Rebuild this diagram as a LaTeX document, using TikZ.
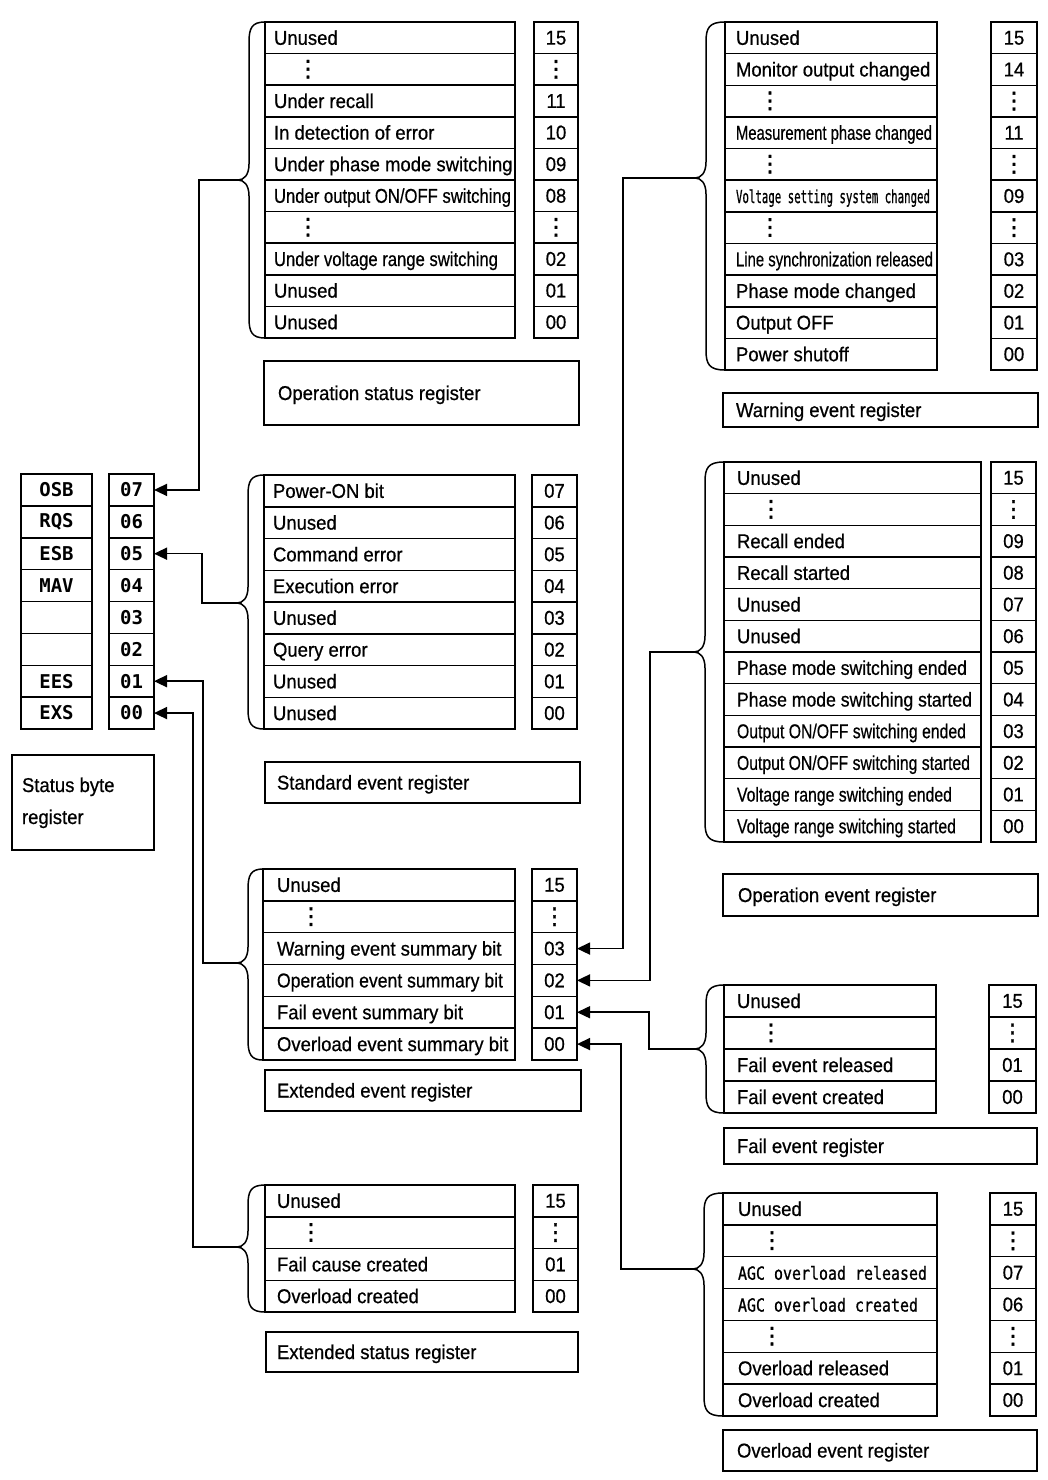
\documentclass[tikz,border=0pt]{standalone}
\usepackage{fontspec}
\setmainfont[FakeStretch=0.925,FakeBold=0.6]{Liberation Sans}
\newfontfamily\monof{DejaVu Sans Mono}
\newfontfamily\monot[FakeBold=1]{DejaVu Sans Mono}
\newfontfamily\symf[FakeBold=1.5]{DejaVu Sans}
\usetikzlibrary{arrows.meta}
\newcommand\vd{{\symf\fontsize{23}{23}\selectfont ⋮}}
\newcommand\tdots{\hspace*{34pt}\makebox[0pt]{\vd}}
\newcommand\fitw[2]{\resizebox{#1pt}{\height}{#2}}
\newcommand\mono[2]{\resizebox{#1pt}{\height}{\monot\fontsize{18}{18}\selectfont #2}}
\tikzset{
 cell/.style={draw, line width=1.5pt, inner sep=0pt, outer sep=0pt},
 celltext/.style={inner sep=0pt, outer sep=0pt},
 conn/.style={line width=1.5pt, -{Triangle[length=13pt,width=12pt]}},
 brc/.style={line width=1.5pt},
}
% #1 name, #2 xL, #3 xR, #4 nL, #5 nR, #6 top, #7 row height, #8 inset, #9 list
\newcommand\register[9]{%
 \foreach \txt/\num [count=\k] in {#9} {
   \pgfmathsetmacro\yc{#6+(\k-0.5)*#7}
   \pgfmathsetmacro\wt{#3-#2}
   \pgfmathsetmacro\wn{#5-#4}
   \node[cell, minimum width=\wt pt, minimum height=#7pt] (#1-t\k) at ({(#2+#3)/2},\yc) {};
   \node[celltext, anchor=base west] (#1-l\k) at ([xshift=#8pt,yshift=-7pt]#1-t\k.west) {\txt};
   \node[cell, minimum width=\wn pt, minimum height=#7pt] (#1-n\k) at ({(#4+#5)/2},\yc) {\num};
 }}
% #1 name, #2 xL, #3 top, #4 bottom, #5 tip x, #6 tip y
\newcommand\regbrace[6]{%
 \coordinate (#1) at (#5,#6);
 \draw[brc] (#2,#3) .. controls (#5+14,#3) and (#5+11,#3+6) .. (#5+11,#3+20)
   -- (#5+11,#6-16) .. controls (#5+11,#6-5) and (#5+6,#6) .. (#1)
   .. controls (#5+6,#6) and (#5+11,#6+5) .. (#5+11,#6+16)
   -- (#5+11,#4-20) .. controls (#5+11,#4-6) and (#5+14,#4) .. (#2,#4);}
% label box: #1 name, #2 x1, #3 y1, #4 x2, #5 y2, #6 inset, #7 text
\newcommand\labelbox[7]{%
 \pgfmathsetmacro\lw{#4-#2}
 \pgfmathsetmacro\lh{#5-#3}
 \node[cell, minimum width=\lw pt, minimum height=\lh pt, anchor=north west] (#1) at (#2,#3) {};
 \node[celltext, anchor=base west] (#1-t) at ([xshift=#6pt,yshift=-7pt]#1.west) {#7};}
\begin{document}
\begin{tikzpicture}[x=1pt,y=-1pt,font=\fontsize{20}{24}\selectfont]
\useasboundingbox[fill=white] (0,0) rectangle (1047,1480);

% Status byte register
\foreach \a/\b [count=\k] in {OSB/07,RQS/06,ESB/05,MAV/04,/03,/02,EES/01,EXS/00} {
  \pgfmathsetmacro\yc{474+(\k-0.5)*31.875}
  \node[cell, minimum width=71pt, minimum height=31.875pt, font=\monof\bfseries\fontsize{19}{22}\selectfont] (sb-t\k) at (56.5,\yc) {\a};
  \node[cell, minimum width=45pt, minimum height=31.875pt, font=\monof\bfseries\fontsize{19}{22}\selectfont] (sb-n\k) at (131.5,\yc) {\b};
}
\node[cell, minimum width=142pt, minimum height=95pt, anchor=north west] (sbl) at (12,755) {};
\node[celltext, anchor=base west] (sbl-t1) at (22,792) {Status byte};
\node[celltext, anchor=base west] (sbl-t2) at (22,824) {register};

% Operation status register
\register{os}{265}{515}{534}{578}{22}{31.6}{9}{{Unused}/15,{\tdots}/{\vd},{Under recall}/11,{In detection of error}/10,{Under phase mode switching}/09,{\fitw{237}{Under output ON/OFF switching}}/08,{\tdots}/{\vd},{\fitw{224}{Under voltage range switching}}/02,{Unused}/01,{Unused}/00}
\regbrace{ostip}{265}{22}{338}{238}{180}
\labelbox{osl}{264}{361}{579}{425}{14}{Operation status register}

% Warning event register
\register{we}{725}{937}{991}{1037}{22}{31.64}{11}{{Unused}/15,{Monitor output changed}/14,{\tdots}/{\vd},{\fitw{196}{Measurement phase changed}}/11,{\tdots}/{\vd},{\mono{194}{Voltage setting system changed}}/09,{\tdots}/{\vd},{\fitw{197}{Line synchronization released}}/03,{Phase mode changed}/02,{Output OFF}/01,{Power shutoff}/00}
\regbrace{wetip}{725}{22}{370}{695}{178}
\labelbox{wel}{723}{393}{1038}{427}{13}{Warning event register}

% Standard event register
\register{se}{264}{515}{532}{577}{475}{31.75}{9}{{Power-ON bit}/07,{Unused}/06,{Command error}/05,{Execution error}/04,{Unused}/03,{Query error}/02,{Unused}/01,{Unused}/00}
\regbrace{setip}{264}{475}{729}{237}{603}
\labelbox{sel}{265}{762}{580}{803}{12}{Standard event register}

% Operation event register
\register{oe}{724}{981}{991}{1036}{462}{31.67}{13}{{Unused}/15,{\tdots}/{\vd},{Recall ended}/09,{Recall started}/08,{Unused}/07,{Unused}/06,{\fitw{230}{Phase mode switching ended}}/05,{\fitw{235}{Phase mode switching started}}/04,{\fitw{229}{Output ON/OFF switching ended}}/03,{\fitw{233}{Output ON/OFF switching started}}/02,{\fitw{215}{Voltage range switching ended}}/01,{\fitw{219}{Voltage range switching started}}/00}
\regbrace{oetip}{724}{462}{842}{694}{652}
\labelbox{oel}{723}{874}{1038}{916}{15}{Operation event register}

% Extended event register
\register{ee}{263}{515}{532}{577}{869}{31.83}{14}{{Unused}/15,{\tdots}/{\vd},{Warning event summary bit}/03,{\fitw{226}{Operation event summary bit}}/02,{Fail event summary bit}/01,{Overload event summary bit}/00}
\regbrace{eetip}{263}{869}{1060}{237}{963}
\labelbox{eel}{265}{1070}{581}{1111}{12}{Extended event register}

% Fail event register
\register{fe}{724}{936}{989}{1036}{985}{32}{13}{{Unused}/15,{\tdots}/{\vd},{Fail event released}/01,{Fail event created}/00}
\regbrace{fetip}{724}{985}{1113}{695}{1049}
\labelbox{fel}{724}{1128}{1037}{1164}{13}{Fail event register}

% Extended status register
\register{es}{265}{515}{533}{578}{1185}{31.75}{12}{{Unused}/15,{\tdots}/{\vd},{Fail cause created}/01,{Overload created}/00}
\regbrace{estip}{265}{1185}{1312}{237}{1247}
\labelbox{esl}{266}{1332}{578}{1372}{11}{Extended status register}

% Overload event register
\register{ol}{723}{937}{990}{1036}{1193}{31.86}{15}{{Unused}/15,{\tdots}/{\vd},{\mono{189}{AGC overload released}}/07,{\mono{180}{AGC overload created}}/06,{\tdots}/{\vd},{Overload released}/01,{Overload created}/00}
\regbrace{oltip}{723}{1193}{1416}{693}{1269}
\labelbox{oll}{723}{1430}{1037}{1471}{14}{Overload event register}

% Connectors
\draw[conn] (ostip) -| ([xshift=45pt]sb-n1.east) -- (sb-n1.east);
\draw[conn] (setip) -| ([xshift=48pt]sb-n3.east) -- (sb-n3.east);
\draw[conn] (eetip) -| ([xshift=49pt]sb-n7.east) -- (sb-n7.east);
\draw[conn] (estip) -| ([xshift=39pt]sb-n8.east) -- (sb-n8.east);
\draw[conn] (wetip) -| ([xshift=46pt]ee-n3.east) -- (ee-n3.east);
\draw[conn] (oetip) -| ([xshift=73pt]ee-n4.east) -- (ee-n4.east);
\draw[conn] (fetip) -| ([xshift=72pt]ee-n5.east) -- (ee-n5.east);
\draw[conn] (oltip) -| ([xshift=44pt]ee-n6.east) -- (ee-n6.east);
\end{tikzpicture}
\end{document}
